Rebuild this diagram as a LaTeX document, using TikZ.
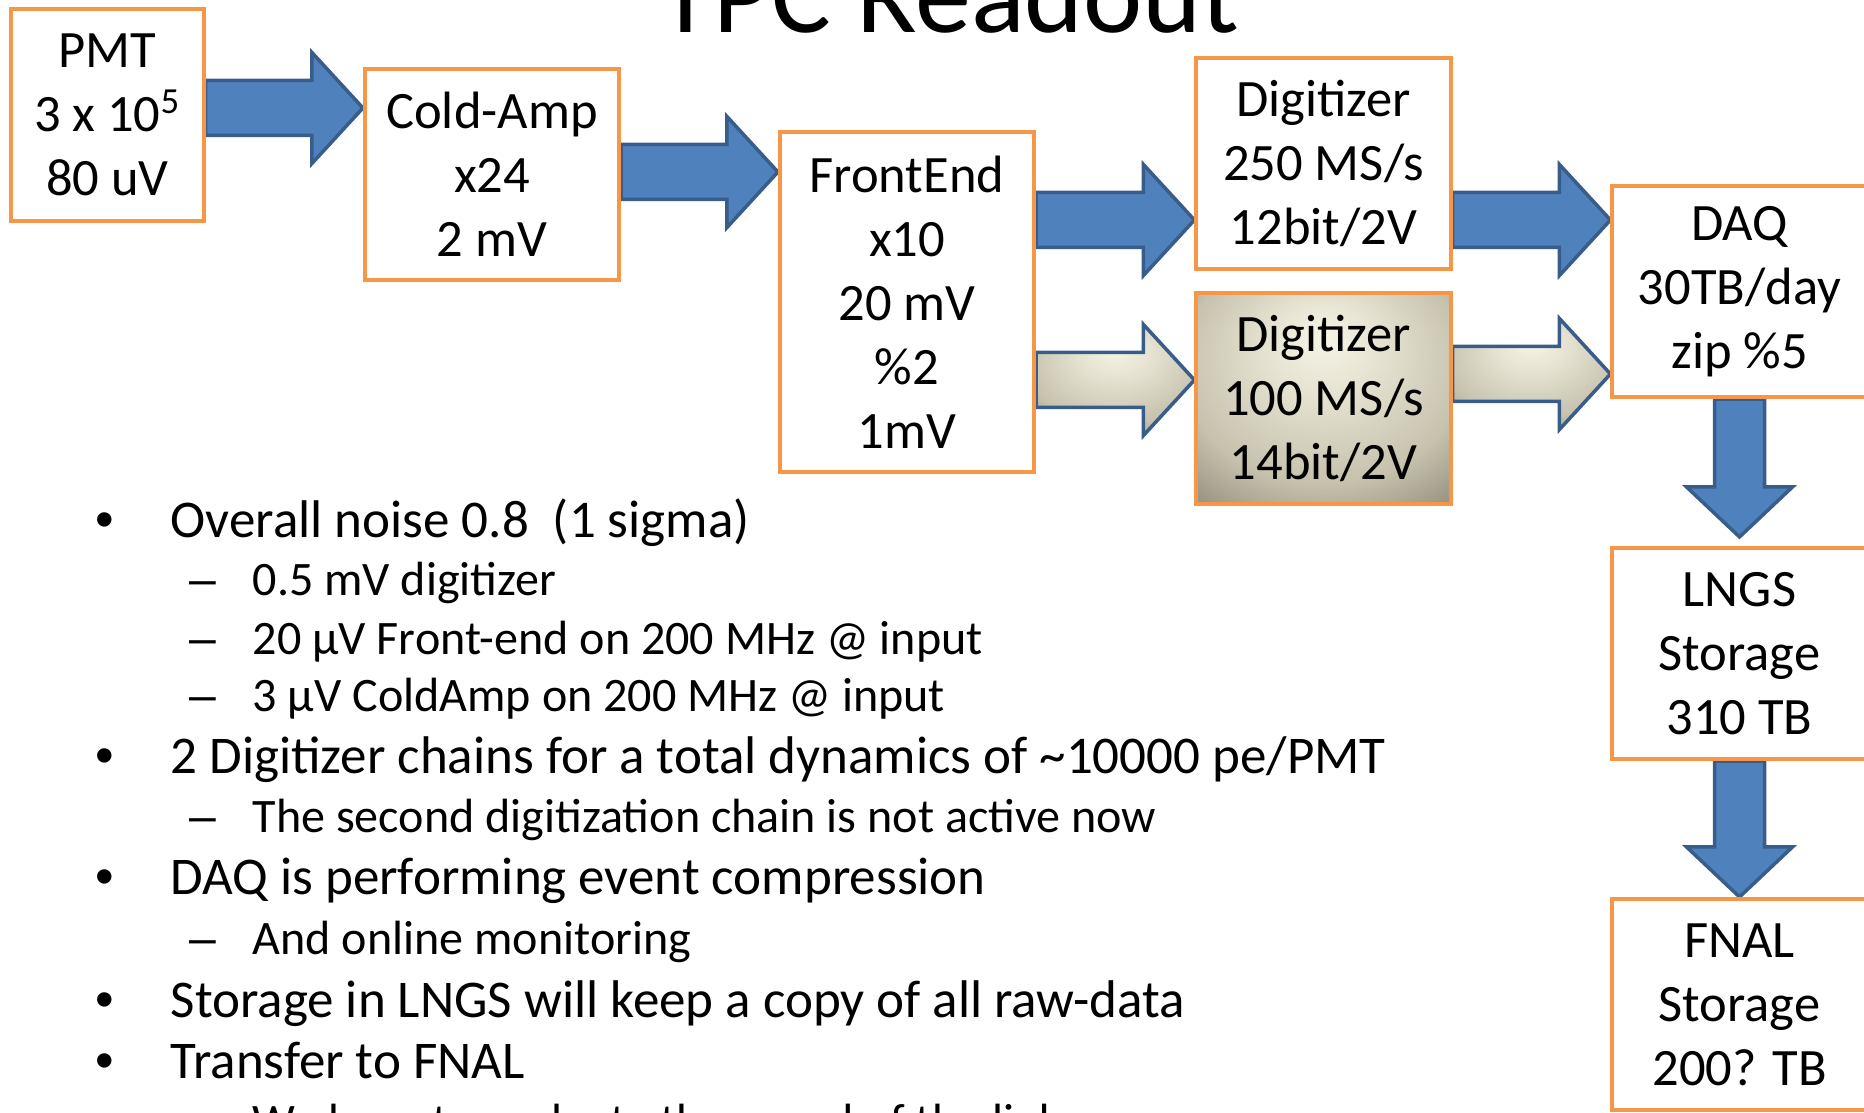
\documentclass[tikz,border=0pt]{standalone}
\usepackage{fontspec}
\setmainfont{Carlito}
\newfontfamily\markfamily{Liberation Sans}
\usetikzlibrary{calc,backgrounds}

\definecolor{boxorange}{HTML}{F79646}
\definecolor{arrowblue}{HTML}{4F81BD}
\definecolor{arrowline}{HTML}{385D8A}
\definecolor{glowA}{HTML}{F7F5E6}
\definecolor{glowAB}{HTML}{E4E1D0}
\definecolor{glowB}{HTML}{C6C2AE}
\definecolor{glowC}{HTML}{8A8674}

\pgfdeclareradialshading{creamglow}{\pgfpoint{0bp}{15bp}}{color(0bp)=(glowA); color(12bp)=(glowAB); color(28bp)=(glowB); color(42bp)=(glowC); color(60bp)=(glowC)}

\newcommand{\boxfont}{\fontsize{14.94}{18.21}\selectfont}
\newcommand{\lvlonefont}{\fontsize{15.08}{18}\selectfont}
\newcommand{\lvltwofont}{\fontsize{13.67}{17}\selectfont}

% horizontal block arrow: start, tip, style
\newcommand{\hblock}[3]{%
  \path[#3] ($(#1)+(0,-27.5)$) -- ($(#2)+(-51,-27.5)$) -- ($(#2)+(-51,-55.5)$) -- (#2)
    -- ($(#2)+(-51,55.5)$) -- ($(#2)+(-51,27.5)$) -- ($(#1)+(0,27.5)$) -- cycle;}
% vertical block arrow: start, tip, style
\newcommand{\vblock}[3]{%
  \path[#3] ($(#1)+(-25,0)$) -- ($(#2)+(-25,-50)$) -- ($(#2)+(-53,-50)$) -- (#2)
    -- ($(#2)+(53,-50)$) -- ($(#2)+(25,-50)$) -- ($(#1)+(25,0)$) -- cycle;}

\tikzset{
  stage/.style={draw=boxorange, line width=0.04cm, fill=white, minimum width=2.54cm,
    minimum height=2.11cm, inner sep=0pt, align=center, font=\boxfont},
  bluearrow/.style={fill=arrowblue, draw=arrowline, line width=0.035cm},
  creamarrow/.style={shade, shading=creamglow, draw=arrowline, line width=0.035cm},
  dot/.style={anchor=base, inner sep=0pt, font=\markfamily\lvlonefont},
  dashmark/.style={anchor=base, inner sep=0pt, font=\markfamily\lvltwofont},
  lvlone/.style={anchor=base west, inner sep=0pt, font=\lvlonefont},
  lvltwo/.style={anchor=base west, inner sep=0pt, font=\lvltwofont},
}

\begin{document}
\begin{tikzpicture}[x=0.01cm, y=-0.01cm]
  \useasboundingbox (0,0) rectangle (1864,1113);
  \clip (0,0) rectangle (1864,1113);

  % Title
  \node[anchor=base, inner sep=0pt, font=\fontsize{31.9}{38}\selectfont] (title) at (949,33) {TPC Readout};

  % Stages
  \node[stage, minimum width=1.92cm] (pmt) at (107.5,115) {PMT\\3 x 10\textsuperscript{5}\\80 uV};
  \node[stage] (coldamp) at (492,174.5) {Cold-Amp\\x24\\2 mV};
  \node[stage, minimum height=3.40cm] (frontend) at (907,302) {FrontEnd\\x10\\20 mV\\\%2\\1mV};
  \node[stage] (digi250) at (1323.5,163.5) {Digitizer\\250 MS/s\\12bit/2V};
  \node[stage, shade, shading=creamglow] (digi100) at (1323.5,398.5) {Digitizer\\100 MS/s\\14bit/2V};
  \node[stage] (daq) at (1739.5,291.5) {DAQ\\30TB/day\\zip \%5};
  \node[stage] (lngs) at (1739.5,653.5) {LNGS\\Storage\\310 TB};
  \node[stage] (fnal) at (1739.5,1004.5) {FNAL\\Storage\\200? TB};

  % Arrow levels
  \coordinate (a1) at (0,108);
  \coordinate (a2) at (0,172);
  \coordinate (a3) at (0,220);
  \coordinate (a4) at (0,380);
  \coordinate (a5) at (0,220);
  \coordinate (a6) at (0,374);
  \coordinate (lngstip) at ($(lngs.north)+(0,-9)$);

  % Block arrows
  \begin{scope}[on background layer]
    \hblock{pmt.east |- a1}{coldamp.west |- a1}{bluearrow}
    \hblock{coldamp.east |- a2}{frontend.west |- a2}{bluearrow}
    \hblock{frontend.east |- a3}{digi250.west |- a3}{bluearrow}
    \hblock{frontend.east |- a4}{digi100.west |- a4}{creamarrow}
    \hblock{digi250.east |- a5}{daq.west |- a5}{bluearrow}
    \hblock{digi100.east |- a6}{daq.west |- a6}{creamarrow}
    \vblock{daq.south}{lngstip}{bluearrow}
    \vblock{lngs.south}{fnal.north}{bluearrow}
  \end{scope}

  % Bullets
  \node[dot] (p1) at (105,538) {•};
  \node[lvlone] (t1) at (170,538) {Overall noise 0.8\ \ (1 sigma)};
  \node[dashmark] (q1) at (203,596) {–};
  \node[lvltwo] (s1) at (252,596) {0.5 mV digitizer};
  \node[dashmark] (q2) at (203,654) {–};
  \node[lvltwo] (s2) at (252,654) {20 µV Front-end on 200 MHz @ input};
  \node[dashmark] (q3) at (203,711) {–};
  \node[lvltwo] (s3) at (252,711) {3 µV ColdAmp on 200 MHz @ input};
  \node[dot] (p2) at (105,773) {•};
  \node[lvlone] (t2) at (170,773) {2 Digitizer chains for a total dynamics of \textasciitilde10000 pe/PMT};
  \node[dashmark] (q4) at (203,832) {–};
  \node[lvltwo] (s4) at (252,832) {The second digitization chain is not active now};
  \node[dot] (p3) at (105,894) {•};
  \node[lvlone] (t3) at (170,894) {DAQ is performing event compression};
  \node[dashmark] (q5) at (203,954) {–};
  \node[lvltwo] (s5) at (252,954) {And online monitoring};
  \node[dot] (p4) at (105,1017) {•};
  \node[lvlone] (t4) at (170,1017) {Storage in LNGS will keep a copy of all raw-data};
  \node[dot] (p5) at (105,1078) {•};
  \node[lvlone] (t5) at (170,1078) {Transfer to FNAL};
  \node[dashmark] (q6) at (203,1137) {–};
  \node[lvltwo] (s6) at (252,1137) {We have to evaluate the speed of the link};
\end{tikzpicture}
\end{document}
